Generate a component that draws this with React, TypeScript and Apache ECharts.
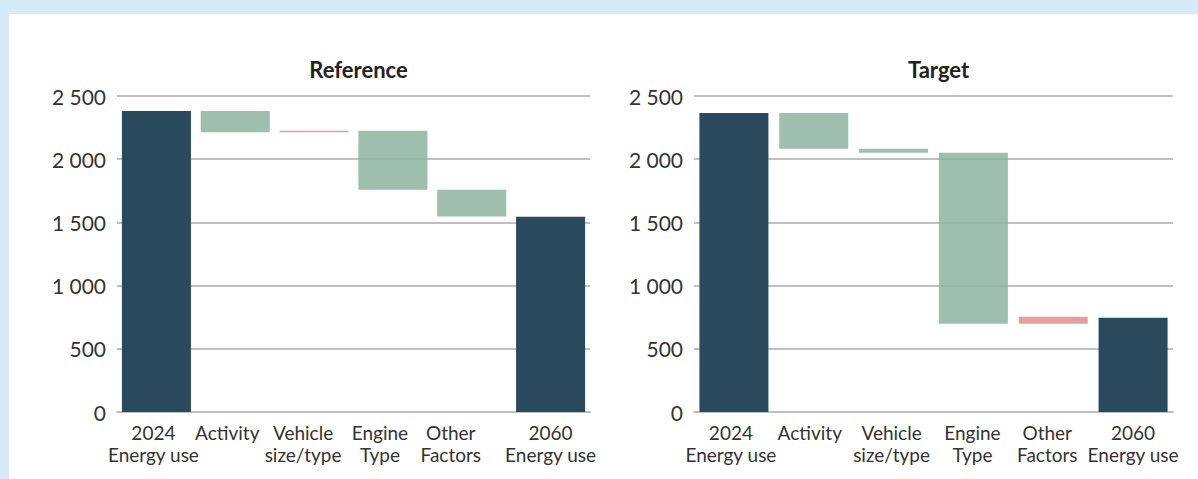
import React, { useEffect, useRef } from "react";
import * as echarts from "echarts";

const categories = ["2024\nEnergy use", "Activity", "Vehicle\nsize/type", "Engine\nType", "Other\nFactors", "2060\nEnergy use"];
const panelTitles = ["Reference", "Target"];
const referenceStart = 2381;
const referenceChanges = [-168, 12, -467, -211];
const referenceEnd = 1545;
const targetStart = 2366;
const targetChanges = [-283, -32, -1352, 55];
const targetEnd = 746;
const yTicks = [0, 500, 1000, 1500, 2000, 2500];

// horizontal label nudges (px, negative = left), layout only
const labelShifts = [
  [-3, -8, -11, -13, -21, 0],
  [-3, -4, -2, -1, -6, 0],
];

const DARK = "#29495c";
const GREEN = "rgba(141,180,160,0.85)";
const RED = "rgba(226,150,146,0.9)";
const FONT = "Lato, 'Open Sans', sans-serif";

function waterfall(start: number, changes: number[], end: number) {
  const base: number[] = [0];
  const vals: any[] = [{ value: start, itemStyle: { color: DARK } }];
  let run = start;
  changes.forEach((d) => {
    const next = run + d;
    base.push(Math.min(run, next));
    vals.push({ value: Math.abs(d), itemStyle: { color: d < 0 ? GREEN : RED } });
    run = next;
  });
  base.push(0);
  vals.push({ value: end, itemStyle: { color: DARK } });
  return { base, vals };
}

export default function App() {
  const ref = useRef<HTMLDivElement>(null);
  useEffect(() => {
    if (!ref.current) return;
    const chart = echarts.init(ref.current, null, { renderer: "svg" });
    const panels = [
      waterfall(referenceStart, referenceChanges, referenceEnd),
      waterfall(targetStart, targetChanges, targetEnd),
    ];
    const grids = [
      { left: 117, top: 96, width: 473, height: 316 },
      { left: 694, top: 96, width: 479, height: 316 },
    ];
    const richFor = (i: number) => {
      const r: any = {};
      labelShifts[i].forEach((s, k) => {
        r["s" + k] = {
          fontFamily: FONT,
          fontSize: 19,
          lineHeight: 22,
          color: "#333",
          padding: s < 0 ? [0, -2 * s, 0, 0] : [0, 0, 0, 2 * s],
        };
      });
      return r;
    };
    chart.setOption({
      animation: false,
      backgroundColor: "#d5ebf8",
      graphic: [
        { type: "rect", shape: { x: 9, y: 14, width: 1200, height: 480 }, style: { fill: "#ffffff" }, z: -10 },
      ],
      title: panelTitles.map((t, i) => ({
        text: t,
        left: grids[i].left + grids[i].width / 2,
        top: 53,
        textAlign: "center",
        textStyle: { fontFamily: FONT, fontWeight: "bold", fontSize: 22, color: "#222" },
      })),
      grid: grids,
      xAxis: grids.map((_, i) => ({
        gridIndex: i,
        type: "category",
        data: categories,
        axisTick: { show: false },
        axisLine: { show: true, lineStyle: { color: "#c0c0c4", width: 2 } },
        axisLabel: {
          interval: 0,
          fontFamily: FONT,
          fontSize: 19,
          lineHeight: 22,
          color: "#333",
          margin: 9,
          hideOverlap: false,
          formatter: (v: string, idx: number) =>
            v.split("\n").map((line) => `{s${idx}|${line}}`).join("\n"),
          rich: richFor(i),
        },
      })),
      yAxis: grids.map((_, i) => ({
        gridIndex: i,
        type: "value",
        min: yTicks[0],
        max: yTicks[yTicks.length - 1],
        interval: yTicks[1] - yTicks[0],
        axisLine: { show: false },
        axisTick: { show: false },
        splitLine: { show: true, lineStyle: { color: "#c0c0c4", width: 2 } },
        axisLabel: {
          fontFamily: FONT,
          fontSize: 21,
          color: "#333",
          margin: 11,
          formatter: (v: number) => String(v).replace(/\B(?=(\d{3})+(?!\d))/g, " "),
        },
      })),
      series: panels.flatMap((p, i) => [
        {
          type: "bar",
          xAxisIndex: i,
          yAxisIndex: i,
          stack: "w" + i,
          data: p.base,
          itemStyle: { color: "transparent" },
          barWidth: 69,
          silent: true,
        },
        {
          type: "bar",
          xAxisIndex: i,
          yAxisIndex: i,
          stack: "w" + i,
          data: p.vals,
          barWidth: 69,
        },
      ]),
    });
    return () => chart.dispose();
  }, []);
  return <div ref={ref} style={{ position: "fixed", left: 0, top: 0, width: 1198, height: 479 }} />;
}
